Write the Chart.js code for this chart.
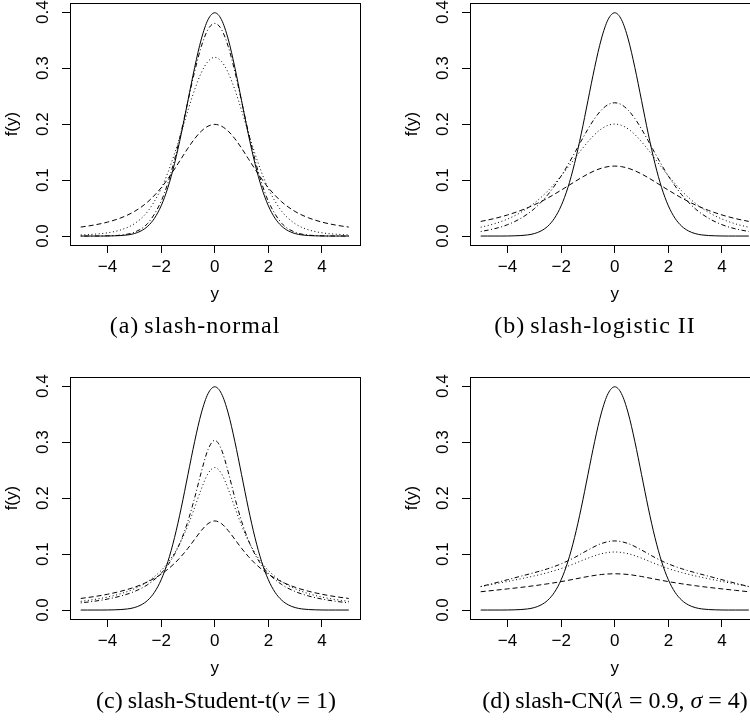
<!DOCTYPE html>
<html><head><meta charset="utf-8">
<script src="https://cdn.jsdelivr.net/npm/chart.js@4.4.1/dist/chart.umd.min.js"></script>
<style>
html,body{margin:0;padding:0;background:#fff;}
#page{position:relative;width:750px;height:722px;overflow:hidden;background:#fff;}
canvas{position:absolute;}
.cap{position:absolute;white-space:nowrap;font-family:"Liberation Serif",serif;font-size:24px;line-height:1;color:#000;letter-spacing:1px;transform:translateX(-50%);}
.cap.m{letter-spacing:0px;}
.cap i{font-style:italic;}
.cap .g{margin-left:5px;}
</style></head><body>
<div id="page">
<canvas id="ca" width="400" height="374" style="left:0;top:-14px;width:400px;height:374px"></canvas>
<canvas id="cb" width="400" height="374" style="left:400px;top:-14px;width:400px;height:374px"></canvas>
<canvas id="cc" width="400" height="374" style="left:0;top:360px;width:400px;height:374px"></canvas>
<canvas id="cd" width="400" height="374" style="left:400px;top:360px;width:400px;height:374px"></canvas>
<div class="cap" style="left:195px;top:313px">(a)<span class="g">slash-normal</span></div>
<div class="cap" style="left:595px;top:313px">(b)<span class="g">slash-logistic II</span></div>
<div class="cap m" style="left:216px;top:688px">(c)<span class="g">slash-Student-t(<i>ν</i> = 1)</span></div>
<div class="cap m" style="left:615px;top:688px">(d)<span class="g">slash-CN(<i>λ</i> = 0.9, <i>σ</i> = 4)</span></div>
</div>
<script>
// ---- data ----
const X_TICKS = [-4, -2, 0, 2, 4];
const Y_TICKS = [0, 0.1, 0.2, 0.3, 0.4];

const xNormal = [-5,-4.75,-4.5,-4.25,-4,-3.75,-3.5,-3.25,-3,-2.75,-2.5,-2.25,-2,-1.75,-1.5,-1.25,-1,-0.75,-0.5,-0.25,0,0.25,0.5,0.75,1,1.25,1.5,1.75,2,2.25,2.5,2.75,3,3.25,3.5,3.75,4,4.25,4.5,4.75,5];
const normalY = [0.0000,0.0000,0.0000,0.0000,0.0001,0.0004,0.0009,0.0020,0.0044,0.0091,0.0175,0.0317,0.0540,0.0863,0.1295,0.1826,0.2420,0.3011,0.3521,0.3867,0.3989,0.3867,0.3521,0.3011,0.2420,0.1826,0.1295,0.0863,0.0540,0.0317,0.0175,0.0091,0.0044,0.0020,0.0009,0.0004,0.0001,0.0000,0.0000,0.0000,0.0000];

const xInner = [-5,-4.5,-4,-3.5,-3,-2.5,-2,-1.75,-1.5,-1.25,-1,-0.75,-0.5,-0.25,0,0.25,0.5,0.75,1,1.25,1.5,1.75,2,2.5,3,3.5,4,4.5,5];

const aDashed  = [0.0160,0.0197,0.0249,0.0325,0.0438,0.0610,0.0862,0.1021,0.1197,0.1384,0.1570,0.1739,0.1875,0.1963,0.1995,0.1963,0.1875,0.1739,0.1570,0.1384,0.1197,0.1021,0.0862,0.0610,0.0438,0.0325,0.0249,0.0197,0.0160];
const aDotted  = [0.0019,0.0033,0.0058,0.0111,0.0220,0.0441,0.0845,0.1132,0.1473,0.1853,0.2246,0.2615,0.2920,0.3121,0.3192,0.3121,0.2920,0.2615,0.2246,0.1853,0.1473,0.1132,0.0845,0.0441,0.0220,0.0111,0.0058,0.0033,0.0019];
const aDotDash = [0.0000,0.0001,0.0004,0.0017,0.0068,0.0227,0.0620,0.0946,0.1366,0.1866,0.2409,0.2940,0.3390,0.3693,0.3799,0.3693,0.3390,0.2940,0.2409,0.1866,0.1366,0.0946,0.0620,0.0227,0.0068,0.0017,0.0004,0.0001,0.0000];

const bDashed  = [0.0261,0.0312,0.0377,0.0458,0.0558,0.0679,0.0820,0.0894,0.0969,0.1042,0.1109,0.1167,0.1212,0.1240,0.1250,0.1240,0.1212,0.1167,0.1109,0.1042,0.0969,0.0894,0.0820,0.0679,0.0558,0.0458,0.0377,0.0312,0.0261];
const bDotted  = [0.0157,0.0218,0.0304,0.0424,0.0589,0.0805,0.1074,0.1225,0.1382,0.1538,0.1684,0.1813,0.1914,0.1978,0.2000,0.1978,0.1914,0.1813,0.1684,0.1538,0.1382,0.1225,0.1074,0.0805,0.0589,0.0424,0.0304,0.0218,0.0157];
const bDotDash = [0.0081,0.0129,0.0203,0.0318,0.0489,0.0737,0.1072,0.1270,0.1482,0.1700,0.1911,0.2100,0.2250,0.2347,0.2381,0.2347,0.2250,0.2100,0.1911,0.1700,0.1482,0.1270,0.1072,0.0737,0.0489,0.0318,0.0203,0.0129,0.0081];

const cDashed  = [0.0207,0.0240,0.0282,0.0336,0.0407,0.0505,0.0640,0.0729,0.0834,0.0959,0.1103,0.1263,0.1421,0.1544,0.1592,0.1544,0.1421,0.1263,0.1103,0.0959,0.0834,0.0729,0.0640,0.0505,0.0407,0.0336,0.0282,0.0240,0.0207];
const cDotted  = [0.0155,0.0188,0.0232,0.0293,0.0380,0.0508,0.0706,0.0844,0.1019,0.1240,0.1512,0.1831,0.2165,0.2438,0.2546,0.2438,0.2165,0.1831,0.1512,0.1240,0.1019,0.0844,0.0706,0.0508,0.0380,0.0293,0.0232,0.0188,0.0155];
const cDotDash = [0.0128,0.0157,0.0196,0.0251,0.0331,0.0455,0.0655,0.0802,0.0996,0.1253,0.1588,0.2005,0.2469,0.2868,0.3032,0.2868,0.2469,0.2005,0.1588,0.1253,0.0996,0.0802,0.0655,0.0455,0.0331,0.0251,0.0196,0.0157,0.0128];

const xCoarse = [-5,-4.5,-4,-3.5,-3,-2.5,-2,-1.5,-1,-0.5,0,0.5,1,1.5,2,2.5,3,3.5,4,4.5,5];
const dDashed  = [0.0327,0.0352,0.0378,0.0405,0.0435,0.0469,0.0508,0.0553,0.0599,0.0635,0.0648,0.0635,0.0599,0.0553,0.0508,0.0469,0.0435,0.0405,0.0378,0.0352,0.0327];
const dDotted  = [0.0419,0.0465,0.0511,0.0559,0.0610,0.0669,0.0741,0.0830,0.0927,0.1006,0.1037,0.1006,0.0927,0.0830,0.0741,0.0669,0.0610,0.0559,0.0511,0.0465,0.0419];
const dDotDash = [0.0420,0.0480,0.0542,0.0605,0.0668,0.0738,0.0825,0.0938,0.1072,0.1188,0.1235,0.1188,0.1072,0.0938,0.0825,0.0738,0.0668,0.0605,0.0542,0.0480,0.0420];

// ---- styles ----
const DASH = { solid: [], dashed: [5, 3], dotted: [1, 2.6], dotdash: [1, 2.5, 4.5, 2.5] };
const AXIS_FONT = { family: 'Liberation Sans', size: 17 };

const boxPlugin = {
  id: 'rbox',
  afterDraw(chart) {
    const { ctx, chartArea: a } = chart;
    ctx.save();
    ctx.strokeStyle = '#000';
    ctx.lineWidth = 1;
    const l = Math.round(a.left) + 0.5, t = Math.round(a.top) + 0.5;
    const r = Math.round(a.right) + 0.5, b = Math.round(a.bottom) + 0.5;
    ctx.strokeRect(l, t, r - l, b - t);
    ctx.restore();
  }
};

function series(xs, ys, dash) {
  return {
    data: xs.map((v, i) => ({ x: v, y: ys[i] })),
    borderColor: '#000', borderWidth: 1, borderDash: dash,
    pointRadius: 0, fill: false, cubicInterpolationMode: 'monotone'
  };
}

function makeChart(id, sets) {
  return new Chart(document.getElementById(id), {
    type: 'line',
    data: { datasets: sets },
    options: {
      responsive: false, animation: false, devicePixelRatio: 1,
      layout: { padding: { left: 0, top: 16, right: 40.5, bottom: 55 } },
      plugins: { legend: { display: false }, tooltip: { enabled: false } },
      scales: {
        x: {
          type: 'linear', min: -5.4, max: 5.4,
          afterBuildTicks: sc => { sc.ticks = X_TICKS.map(v => ({ value: v })); },
          afterFit: sc => { sc.height = 60; },
          ticks: { autoSkip: false, maxRotation: 0, minRotation: 0, padding: 4, color: '#000', font: AXIS_FONT,
                   callback: v => (v < 0 ? '\u2212' + Math.abs(v) : String(v)) },
          grid: { drawOnChartArea: false, drawTicks: true, tickLength: 8, color: '#000', lineWidth: 1 },
          border: { display: false },
          title: { display: true, text: 'y', color: '#000', font: AXIS_FONT, padding: { top: 0, bottom: 0 } }
        },
        y: {
          type: 'linear', min: -0.016, max: 0.416,
          afterBuildTicks: sc => { sc.ticks = Y_TICKS.map(v => ({ value: v })); },
          afterFit: sc => { sc.width = 70; },
          ticks: { autoSkip: false, minRotation: 90, maxRotation: 90, crossAlign: 'center', padding: 7, color: '#000', font: AXIS_FONT,
                   callback: v => Number(v).toFixed(1) },
          grid: { drawOnChartArea: false, drawTicks: true, tickLength: 8, color: '#000', lineWidth: 1 },
          border: { display: false },
          title: { display: true, text: 'f(y)', color: '#000', font: AXIS_FONT, padding: { top: 2, bottom: 0 } }
        }
      }
    },
    plugins: [boxPlugin]
  });
}

makeChart('ca', [
  series(xNormal, normalY, DASH.solid),
  series(xInner, aDashed, DASH.dashed),
  series(xInner, aDotted, DASH.dotted),
  series(xInner, aDotDash, DASH.dotdash)
]);
makeChart('cb', [
  series(xNormal, normalY, DASH.solid),
  series(xInner, bDashed, DASH.dashed),
  series(xInner, bDotted, DASH.dotted),
  series(xInner, bDotDash, DASH.dotdash)
]);
makeChart('cc', [
  series(xNormal, normalY, DASH.solid),
  series(xInner, cDashed, DASH.dashed),
  series(xInner, cDotted, DASH.dotted),
  series(xInner, cDotDash, DASH.dotdash)
]);
makeChart('cd', [
  series(xNormal, normalY, DASH.solid),
  series(xCoarse, dDashed, DASH.dashed),
  series(xCoarse, dDotted, DASH.dotted),
  series(xCoarse, dDotDash, DASH.dotdash)
]);
</script>
</body></html>
